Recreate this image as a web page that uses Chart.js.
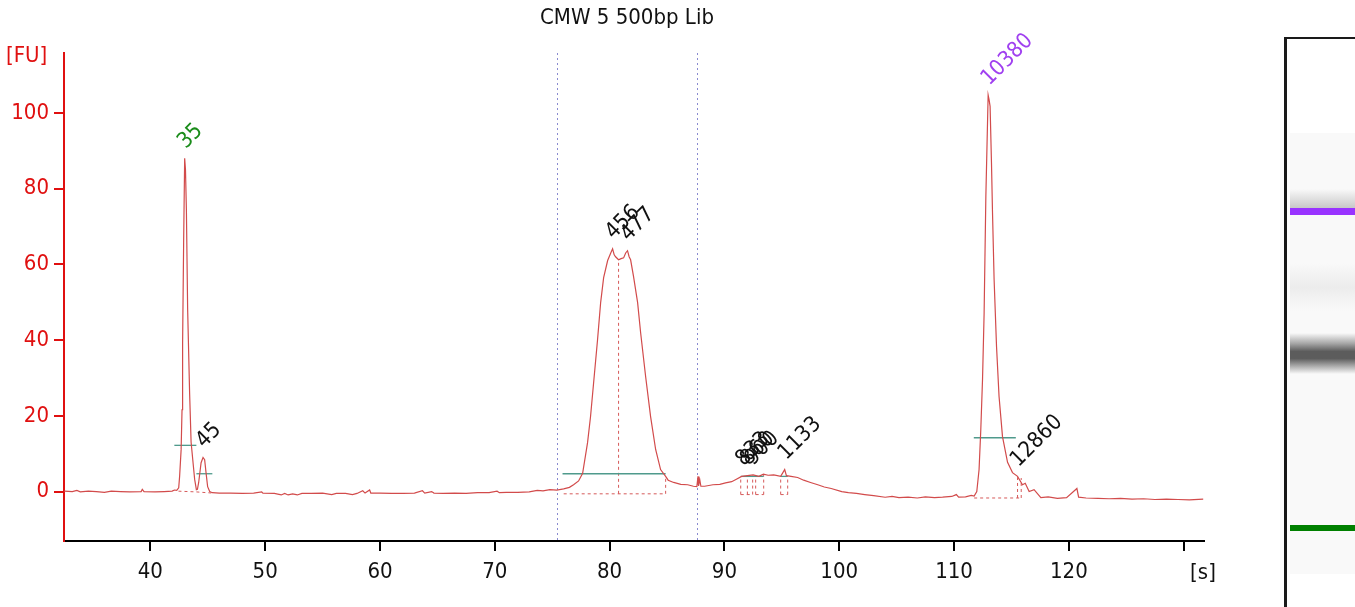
<!DOCTYPE html>
<html>
<head>
<meta charset="utf-8">
<script src="https://cdn.jsdelivr.net/npm/chart.js"></script>
<style>
html, body { margin: 0; padding: 0; background: #fff; overflow: hidden; }
#wrap { position: relative; width: 1355px; height: 607px; }
#chart { position: absolute; left: 0; top: 0; }
#gel { position: absolute; left: 1284px; top: 37px; width: 71px; height: 570px; border-left: 3px solid #1a1a1a; border-top: 2px solid #1a1a1a; box-sizing: border-box; background: #fff; }
.band { position: absolute; left: 3px; right: 0; }
</style>
</head>
<body>
<div id="wrap">
  <canvas id="chart" width="1280" height="607"></canvas>
  <div id="gel">
    <div class="band" style="top:94px;height:441px;background:#f9f9f9"></div>
    <div class="band" style="top:150px;height:19px;background:linear-gradient(to bottom, rgba(200,200,200,0), #c8c8c8)"></div>
    <div class="band" style="top:169px;height:7px;background:#9933ff"></div>
    <div class="band" style="top:224px;height:48px;background:linear-gradient(to bottom, rgba(0,0,0,0), #ececec 50%, rgba(0,0,0,0))"></div>
    <div class="band" style="top:294px;height:41px;background:linear-gradient(to bottom, rgba(0,0,0,0), #a8a8a8 25%, #5c5c5c 45%, #5c5c5c 62%, #b0b0b0 82%, rgba(0,0,0,0))"></div>
    <div class="band" style="top:486px;height:6px;background:#008000"></div>
  </div>
</div>
<script>
// electropherogram trace: migration time [s] vs fluorescence [FU]
const timeSec = [
  32.5, 33.2, 33.6, 33.9, 34.6, 35.3, 36.0, 36.6, 37.4, 38.2, 39.2, 39.3, 39.45, 40.4, 41.2, 41.9, 42.1, 42.3,
  42.47, 42.55, 42.68, 42.76, 42.81, 42.90, 42.99, 43.06, 43.14, 43.25, 43.42, 43.55, 43.72, 43.86, 44.01,
  44.1, 44.21, 44.42, 44.59, 44.73, 44.85, 44.99, 45.17, 45.4,
  46.0, 47.0, 48.0, 49.0, 49.7, 49.8, 50.8, 51.4, 51.7, 52.0, 52.4, 52.8, 53.2, 54.0, 55.0, 55.8, 56.2, 57.0,
  57.6, 58.0, 58.5, 58.7, 59.1, 59.2, 60.0, 61.0, 62.0, 63.0, 63.7, 63.9, 64.5, 64.7, 65.5, 66.5, 67.5, 68.5,
  69.5, 70.2, 70.4, 71.0, 72.0, 73.0, 73.7, 74.2, 74.8, 75.4, 76.0,
  76.5, 76.86, 77.3, 77.65, 78.08, 78.34, 78.61, 78.95, 79.22, 79.48, 79.83, 80.1, 80.26, 80.4, 80.52, 80.78, 81.0,
  81.22, 81.4, 81.56, 81.7, 81.83, 82.09, 82.44, 82.70, 83.14, 83.57, 84.01, 84.44, 84.88, 85.1, 85.58, 86.2,
  86.8, 87.3, 87.6, 87.7, 87.75, 87.85, 87.95, 88.28, 89.0, 89.6, 90.1, 90.63, 91.0, 91.5, 92.0, 92.5, 93.0,
  93.4, 93.8, 94.3, 94.9, 95.25, 95.4, 95.8, 96.38, 96.9, 97.5, 98.13, 98.7, 99.3, 100.22, 100.8, 101.5,
  102.22, 103.0, 104.0, 104.6, 105.2, 106.0, 106.8, 107.5, 108.3, 109.0, 109.8, 110.2, 110.4, 111.0, 111.5,
  111.75, 111.98, 112.18, 112.33, 112.48, 112.62, 112.77, 112.97, 113.05, 113.14, 113.26, 113.35, 113.49,
  113.70, 113.92, 114.22, 114.66, 115.09, 115.53, 115.96, 116.2, 116.54, 116.97, 117.56, 118.2, 119.0,
  119.8, 120.7, 120.85, 121.5, 122.53, 123.5, 124.5, 125.5, 126.5, 127.5, 128.5, 129.5, 130.5, 131.7
];
const fluor = [
  0.1, 0.0, 0.3, -0.1, 0.1, 0.0, -0.2, 0.1, 0.0, -0.1, 0.0, 0.6, 0.0, -0.1, 0.0, 0.1, 0.4, 0.3,
  1.0, 4.0, 11.0, 21.6, 39.3, 65.7, 88.0, 85.0, 74.4, 48.0, 26.0, 13.0, 7.6, 3.2, 0.5,
  0.6, 2.4, 7.6, 9.0, 8.4, 5.0, 1.3, 0.0, -0.3,
  -0.4, -0.4, -0.5, -0.4, -0.1, -0.4, -0.5, -0.9, -0.5, -0.9, -0.6, -0.9, -0.5, -0.5, -0.4, -0.8, -0.5, -0.5,
  -0.8, -0.5, 0.2, -0.4, 0.4, -0.4, -0.4, -0.5, -0.5, -0.4, 0.2, -0.4, 0.0, -0.4, -0.5, -0.4, -0.5, -0.3,
  -0.3, 0.1, -0.3, -0.2, -0.2, -0.1, 0.3, 0.2, 0.5, 0.4, 0.7,
  1.1, 1.8, 2.8, 4.8, 12.9, 19.8, 28.8, 40.1, 49.9, 56.5, 61.0, 63.0, 64.1, 62.5, 62.0, 61.2, 61.5,
  61.7, 63.0, 63.6, 62.0, 61.2, 56.7, 49.9, 42.0, 30.3, 19.8, 11.1, 5.8, 4.0, 3.0, 2.4, 1.9,
  1.8, 1.4, 1.3, 4.0, 1.5, 3.2, 1.4, 1.4, 1.8, 1.9, 2.3, 2.6, 3.2, 4.0, 4.2, 4.4, 4.0,
  4.6, 4.3, 4.4, 4.0, 5.8, 4.2, 4.0, 3.7, 3.0, 2.4, 1.8, 1.2, 0.8, 0.0, -0.3, -0.5,
  -0.8, -1.1, -1.5, -1.3, -1.6, -1.5, -1.7, -1.4, -1.6, -1.5, -1.3, -0.8, -1.5, -1.4, -1.0,
  -1.2, 0.0, 5.8, 16.4, 29.6, 47.2, 77.9, 104.7, 103.5, 101.7, 86.8, 73.6, 55.9,
  38.3, 25.1, 14.5, 7.7, 5.0, 4.0, 1.8, 2.2, 0.0, 0.5, -1.6, -1.4, -1.8,
  -1.6, 0.8, -1.5, -1.7, -1.8, -1.9, -1.8, -2.0, -1.9, -2.1, -2.0, -2.1, -2.2, -2.0
];

const xTicks = [40, 50, 60, 70, 80, 90, 100, 110, 120, 130];
const yTicks = [0, 20, 40, 60, 80, 100];

// called peaks (size in bp)
const peakLabels = ['35', '45', '456', '477', '833', '860', '900', '1133', '10380', '12860'];
const peakTimes = [42.99, 44.59, 80.26, 81.56, 91.6, 92.0, 92.4, 95.3, 112.97, 115.53];
const peakHeights = [88.0, 9.0, 64.1, 63.6, 4.2, 4.3, 4.4, 5.8, 104.7, 4.0];

// peak width markers
const widthFrom = [42.09, 44.01, 75.9, 91.42, 94.9, 111.72];
const widthTo = [44.01, 45.4, 84.88, 93.42, 95.51, 115.38];
const widthLevel = [12.2, 4.7, 4.7, 4.0, 4.0, 14.2];

// integration baselines and drop lines [t1, v1, t2, v2]
const baseSegs = [
  [42.45, 0.1, 44.01, -0.1], [44.01, -0.1, 45.4, -0.4],
  [76.0, -0.6, 84.88, -0.6], [80.78, -0.6, 80.78, 61.2], [84.88, -0.6, 84.88, 4.0],
  [91.42, -0.8, 92.46, -0.8], [91.42, -0.8, 91.42, 4.0], [92.0, -0.8, 92.0, 4.2], [92.46, -0.8, 92.46, 4.2],
  [92.72, -0.8, 93.42, -0.8], [92.72, -0.8, 92.72, 4.2], [93.42, -0.8, 93.42, 4.4],
  [94.9, -0.8, 95.51, -0.8], [94.9, -0.8, 94.9, 4.0], [95.51, -0.8, 95.51, 4.2],
  [111.75, -1.7, 115.85, -1.7], [115.53, -1.7, 115.53, 3.8], [115.85, -1.7, 115.85, 3.6]
];

// region of interest
const regionEdges = [75.44, 87.64];

const fam = '"DejaVu Sans Condensed", "Liberation Sans", sans-serif';

const extras = {
  id: 'extras',
  beforeDatasetsDraw(chart) {
    const c = chart.ctx, xs = chart.scales.x, ys = chart.scales.y, a = chart.chartArea;
    c.save();
    c.strokeStyle = '#8a8ad0';
    c.lineWidth = 1;
    c.setLineDash([2, 3]);
    regionEdges.forEach(t => {
      const px = Math.round(xs.getPixelForValue(t)) + 0.5;
      c.beginPath(); c.moveTo(px, a.top); c.lineTo(px, a.bottom); c.stroke();
    });
    c.strokeStyle = '#d65a5a';
    c.setLineDash([3, 3]);
    baseSegs.forEach(s => {
      c.beginPath();
      c.moveTo(xs.getPixelForValue(s[0]), ys.getPixelForValue(s[1]));
      c.lineTo(xs.getPixelForValue(s[2]), ys.getPixelForValue(s[3]));
      c.stroke();
    });
    c.setLineDash([]);
    c.strokeStyle = '#4f9a8c';
    c.lineWidth = 1.3;
    widthFrom.forEach((t, i) => {
      const py = ys.getPixelForValue(widthLevel[i]);
      c.beginPath(); c.moveTo(xs.getPixelForValue(t), py); c.lineTo(xs.getPixelForValue(widthTo[i]), py); c.stroke();
    });
    c.restore();
  },
  afterDraw(chart) {
    const c = chart.ctx, xs = chart.scales.x, ys = chart.scales.y;
    c.save();
    c.font = '22px ' + fam;
    c.textBaseline = 'alphabetic';
    c.textAlign = 'left';
    peakLabels.forEach((lab, i) => {
      const px = xs.getPixelForValue(peakTimes[i]) + 1;
      const py = ys.getPixelForValue(peakHeights[i]) - 9;
      c.fillStyle = lab === '35' ? '#1a8c1a' : lab === '10380' ? '#a040f0' : '#111';
      c.save();
      c.translate(px, py);
      c.rotate(-Math.PI / 4);
      c.fillText(lab, 0, 0);
      c.restore();
    });
    c.fillStyle = '#111';
    c.textAlign = 'center';
    c.textBaseline = 'middle';
    c.fillText('CMW 5 500bp Lib', 627, 18);
    c.fillText('[s]', 1203, 573);
    c.fillStyle = '#e01010';
    c.textAlign = 'left';
    c.fillText('[FU]', 6, 56);
    c.restore();
  }
};

new Chart(document.getElementById('chart').getContext('2d'), {
  type: 'line',
  data: {
    datasets: [{
      data: timeSec.map((t, i) => ({ x: t, y: fluor[i] })),
      borderColor: '#d24b4b',
      borderWidth: 1.2,
      pointRadius: 0,
      tension: 0,
      fill: false
    }]
  },
  options: {
    responsive: false,
    animation: false,
    devicePixelRatio: 1,
    layout: { padding: { top: 53, right: 76, left: 0, bottom: 0 } },
    plugins: { legend: { display: false }, tooltip: { enabled: false }, title: { display: false } },
    scales: {
      x: {
        type: 'linear',
        min: 32.48,
        max: 131.77,
        afterFit: s => { s.height = 66; },
        afterBuildTicks: s => { s.ticks = xTicks.map(v => ({ value: v })); },
        grid: { drawOnChartArea: false, drawTicks: true, tickLength: 10, color: '#000', lineWidth: 2 },
        border: { color: '#000', width: 2 },
        ticks: {
          color: '#111', font: { family: fam, size: 22 }, padding: 8,
          maxRotation: 0, autoSkip: false,
          callback: v => v === 130 ? '' : v
        }
      },
      y: {
        type: 'linear',
        min: -13.06,
        max: 115.8,
        afterFit: s => { s.width = 64; },
        afterBuildTicks: s => { s.ticks = yTicks.map(v => ({ value: v })); },
        grid: { drawOnChartArea: false, drawTicks: true, tickLength: 10, color: '#e01010', lineWidth: 2 },
        border: { color: '#e01010', width: 2 },
        ticks: { color: '#e01010', font: { family: fam, size: 22 }, padding: 5 }
      }
    }
  },
  plugins: [extras]
});
</script>
</body>
</html>
